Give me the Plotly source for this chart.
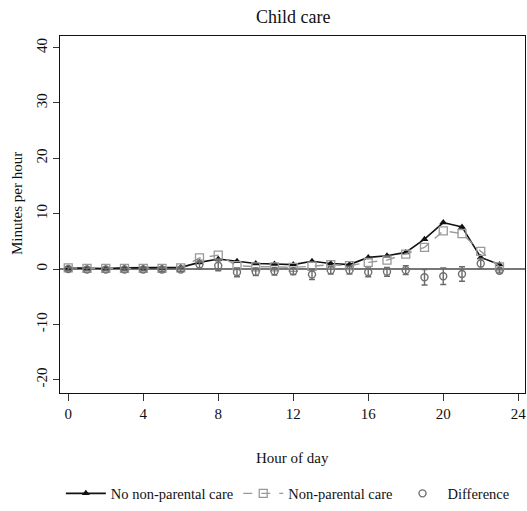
import plotly.graph_objects as go

hours = list(range(24))
no_nonparental = [0.2, 0.1, 0.1, 0.2, 0.2, 0.2, 0.3, 1.2, 1.8, 1.4, 1.0, 0.9, 0.8, 1.4, 1.0, 0.8,
                  2.1, 2.4, 3.0, 5.4, 8.4, 7.6, 2.1, 0.8]
nonparental = [0.2, 0.1, 0.1, 0.1, 0.1, 0.1, 0.2, 2.0, 2.5, 0.6, 0.4, 0.4, 0.3, 0.5, 0.8, 0.6,
               1.2, 1.6, 2.7, 3.9, 6.9, 6.4, 3.2, 0.4]
difference = [0.0, -0.1, -0.1, -0.1, -0.1, -0.1, -0.1, 0.8, 0.6, -0.6, -0.5, -0.4, -0.4, -1.0, -0.2, -0.2,
              -0.6, -0.5, -0.2, -1.5, -1.3, -0.9, 1.0, -0.3]
diff_err = [0.3, 0.2, 0.2, 0.2, 0.2, 0.3, 0.3, 0.8, 0.9, 0.8, 0.7, 0.7, 0.6, 0.9, 0.7, 0.7,
            0.8, 0.8, 0.8, 1.4, 1.5, 1.3, 0.9, 0.4]

x_ticks = [0, 4, 8, 12, 16, 20, 24]
y_ticks = [-20, -10, 0, 10, 20, 30, 40]

FONT = "Liberation Serif"

fig = go.Figure()
fig.add_trace(go.Scatter(
    x=hours, y=no_nonparental, name="No non-parental care", mode="lines+markers",
    line=dict(color="#111111", width=1.6),
    marker=dict(symbol="triangle-up", size=7, color="#111111"),
))
fig.add_trace(go.Scatter(
    x=hours, y=nonparental, name="Non-parental care", mode="lines+markers",
    line=dict(color="#999999", width=1.4, dash="dash"),
    marker=dict(symbol="square-open", size=8, color="#999999", line=dict(width=1.3)),
))
fig.add_trace(go.Scatter(
    x=hours, y=difference, name="Difference", mode="markers",
    marker=dict(symbol="circle-open", size=7, color="#707070", line=dict(width=1.4)),
    error_y=dict(type="data", array=diff_err, visible=True, color="#6a6a6a", thickness=1.4, width=3),
))

fig.add_annotation(text="Child care", x=0.5, y=(395 - 17) / 359, xref="paper", yref="paper",
                   showarrow=False, font=dict(family=FONT, size=18, color="#111"),
                   xanchor="center", yanchor="middle")
fig.add_annotation(text="Hour of day", x=0.5, y=(395 - 460) / 359, xref="paper", yref="paper",
                   showarrow=False, font=dict(family=FONT, size=15, color="#111"),
                   xanchor="center", yanchor="middle")
fig.add_annotation(text="Minutes per hour", x=(17 - 60) / 465, y=(395 - 205) / 359,
                   xref="paper", yref="paper", textangle=-90,
                   showarrow=False, font=dict(family=FONT, size=15, color="#111"),
                   xanchor="center", yanchor="middle")

fig.update_layout(
    width=527, height=511,
    margin=dict(l=60, r=2, t=36, b=116),
    paper_bgcolor="white", plot_bgcolor="white",
    font=dict(family=FONT, size=15, color="#111"),
    showlegend=True,
    legend=dict(orientation="h", x=0.49, xanchor="center", y=(395 - 496) / 359, yanchor="middle",
                font=dict(family=FONT, size=14.5, color="#111"), itemwidth=40,
                tracegroupgap=0, bgcolor="rgba(0,0,0,0)"),
)
fig.update_xaxes(
    range=[-0.44, 24.36], tickvals=x_ticks, ticktext=[str(v) for v in x_ticks],
    showgrid=False, zeroline=False, showline=True, linecolor="#111", linewidth=1.2, mirror=True,
    ticks="outside", ticklen=7, tickcolor="#333", tickwidth=1,
    tickfont=dict(family=FONT, size=15, color="#111"),
)
fig.update_yaxes(
    range=[-22.4, 42.1], tickvals=y_ticks, ticktext=[str(v) for v in y_ticks],
    showgrid=False, zeroline=True, zerolinecolor="#777777", zerolinewidth=2,
    showline=True, linecolor="#111", linewidth=1.2, mirror=True,
    ticks="outside", ticklen=6, tickcolor="#333", tickwidth=1, tickangle=-90,
    tickfont=dict(family=FONT, size=15, color="#111"),
)

fig.write_html("out.html")
